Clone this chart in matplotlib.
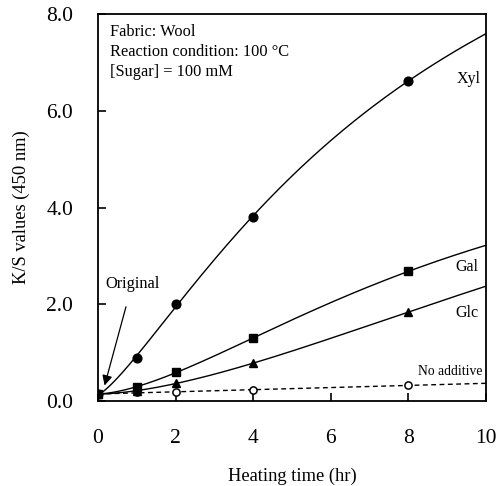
import numpy as np
import matplotlib
matplotlib.use("Agg")
import matplotlib.pyplot as plt

plt.rcParams["font.family"] = ["Liberation Serif", "DejaVu Serif"]

# Heating time (hr) and K/S values at 450 nm
time_hr = [0, 1, 2, 4, 8]
ks_xyl = [0.15, 0.88, 2.00, 3.81, 6.62]
ks_gal = [0.15, 0.28, 0.60, 1.30, 2.68]
ks_glc = [0.15, 0.20, 0.37, 0.78, 1.84]
ks_none = [0.15, 0.18, 0.18, 0.22, 0.33]

x_ticks = [0, 2, 4, 6, 8, 10]
y_ticks = [0.0, 2.0, 4.0, 6.0, 8.0]

fig = plt.figure(figsize=(4.98, 4.86), dpi=100)
ax = fig.add_axes([98 / 498, 1 - 401 / 486, 388 / 498, 387 / 486])

xs = np.linspace(0, 10, 300)
t = np.asarray(time_hr, dtype=float)


def hill_fit(y):
    """Least-squares fit of y = c + A * x^n / (K^n + x^n) by grid search."""
    y = np.asarray(y, dtype=float)
    best = None
    for n in np.linspace(0.8, 4.0, 81):
        for K in np.linspace(1.0, 40.0, 391):
            g = t ** n / (K ** n + t ** n)
            M = np.column_stack([np.ones_like(t), g])
            coef, *_ = np.linalg.lstsq(M, y, rcond=None)
            err = np.sum((M @ coef - y) ** 2)
            if best is None or err < best[0]:
                best = (err, n, K, coef)
    _, n, K, (c, A) = best
    return c + A * xs ** n / (K ** n + xs ** n)


def line_fit(y):
    coef = np.polyfit(t, y, 1)
    return np.polyval(coef, xs)


# fitted curves
ax.plot(xs, hill_fit(ks_xyl), color="black", lw=1.0, zorder=2)
ax.plot(xs, hill_fit(ks_gal), color="black", lw=1.0, zorder=2)
ax.plot(xs, hill_fit(ks_glc), color="black", lw=1.0, zorder=2)
ax.plot(xs, line_fit(ks_none), color="black", lw=1.0, ls=(0, (3.5, 2.5)), zorder=2)

# measured points
ax.plot(time_hr, ks_none, "o", ms=5.2, mfc="white", mec="black", mew=1.1, zorder=3)
ax.plot(time_hr, ks_glc, "^", ms=6.0, color="black", zorder=4)
ax.plot(time_hr, ks_xyl, "o", ms=6.3, color="black", zorder=4)
ax.plot(time_hr, ks_gal, "s", ms=6.0, color="black", zorder=5)

ax.set_xlim(0, 10)
ax.set_ylim(0, 8)
ax.set_xticks(x_ticks)
ax.set_yticks(y_ticks)
ax.set_xticklabels([str(v) for v in x_ticks])
ax.set_yticklabels([f"{v:.1f}" for v in y_ticks])
ax.tick_params(direction="in", length=6, width=1.2, labelsize=15.5)
ax.tick_params(axis="x", pad=20)
ax.tick_params(axis="y", pad=18)
for s in ax.spines.values():
    s.set_linewidth(1.3)

ax.set_xlabel("Heating time (hr)", fontsize=13.3, labelpad=14)
ax.set_ylabel("K/S values (450 nm)", fontsize=13.3, labelpad=11.5)

ax.text(0.03, 0.975,
        "Fabric: Wool\nReaction condition: 100 \u00b0C\n[Sugar] = 100 mM",
        transform=ax.transAxes, ha="left", va="top", fontsize=11.8,
        linespacing=1.34)

ax.text(9.85, 6.66, "Xyl", fontsize=11.5, ha="right", va="center")
ax.text(9.80, 2.77, "Gal", fontsize=11.5, ha="right", va="center")
ax.text(9.80, 1.82, "Glc", fontsize=11.5, ha="right", va="center")
ax.text(9.90, 0.60, "No additive", fontsize=9.8, ha="right", va="center")

ax.annotate("Original", xy=(0.17, 0.32), xytext=(0.18, 2.42),
            fontsize=11.8, ha="left", va="center",
            arrowprops=dict(arrowstyle="-|>", color="black", lw=0.9,
                            shrinkA=9, shrinkB=0, mutation_scale=15))

fig.savefig("out.png", dpi=100)
